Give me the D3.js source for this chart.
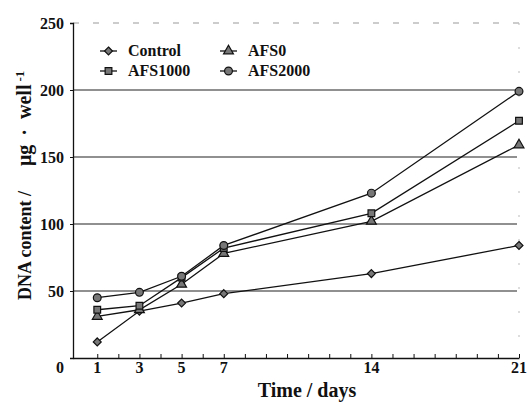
<!DOCTYPE html>
<html>
<head>
<meta charset="utf-8">
<script src="https://cdn.jsdelivr.net/npm/d3@7"></script>
<style>
  body { margin: 0; background: #fff; }
  svg text { font-family: "Times New Roman", "Liberation Serif", "DejaVu Serif", serif !important; font-weight: bold; fill: #111; }
</style>
</head>
<body>
<div id="graph"></div>
<script>
var days = [1, 3, 5, 7, 14, 21];
var control = [12, 35, 41, 48, 63, 84];
var afs0 = [31, 36, 55, 78, 102, 159];
var afs1000 = [36, 39, 60, 82, 108, 177];
var afs2000 = [45, 49, 61, 84, 123, 199];
var xTickLabels = [1, 3, 5, 7, 14, 21];
var yTicks = [50, 100, 150, 200, 250];

var serif = '"Times New Roman", "Liberation Serif", "DejaVu Serif", serif';

var series = [
    {name: 'Control', values: control, symbol: d3.symbolDiamond2, size: 40},
    {name: 'AFS0', values: afs0, symbol: d3.symbolTriangle, size: 42},
    {name: 'AFS1000', values: afs1000, symbol: d3.symbolSquare, size: 45},
    {name: 'AFS2000', values: afs2000, symbol: d3.symbolCircle, size: 48}
];

var width = 529,
    height = 403;

var svg = d3.select('#graph')
    .append('svg')
        .attr('width', width)
        .attr('height', height)
        .attr('font-family', serif);

var x = d3.scaleLinear()
    .domain([-0.15, 21])
    .range([73, 519]);

var y = d3.scaleLinear()
    .domain([0, 250])
    .range([358, 23]);

// frame: faint dotted top and right
svg.append('line')
    .attr('x1', x(-0.15)).attr('x2', x(21))
    .attr('y1', y(250)).attr('y2', y(250))
    .attr('stroke', '#999').attr('stroke-width', 1)
    .attr('stroke-dasharray', '6,14');
svg.append('line')
    .attr('x1', x(21)).attr('x2', x(21))
    .attr('y1', y(250)).attr('y2', y(0))
    .attr('stroke', '#bbb').attr('stroke-width', 1)
    .attr('stroke-dasharray', '2,22');

// gridlines
svg.append('g')
    .selectAll('line')
    .data(yTicks.filter(function(d) { return d < 250; }))
    .enter()
    .append('line')
        .attr('x1', x(-0.15))
        .attr('x2', x(21) - 2)
        .attr('y1', function(d) { return y(d); })
        .attr('y2', function(d) { return y(d); })
        .attr('stroke', '#222')
        .attr('stroke-width', 1.1);

// y axis
var yAxis = svg.append('g')
    .attr('transform', 'translate(' + x(-0.15) + ',0)')
    .call(d3.axisLeft(y).tickValues(yTicks).tickSize(3).tickPadding(6));
yAxis.attr('font-family', serif).attr('font-size', 16);
yAxis.select('.domain').attr('stroke', '#111').attr('stroke-width', 1.3);
yAxis.selectAll('.tick line').attr('stroke', '#111');
yAxis.selectAll('.tick text').attr('fill', '#111');

// x axis: inward ticks every day
var xAxis = svg.append('g')
    .attr('transform', 'translate(0,' + y(0) + ')')
    .call(d3.axisBottom(x).tickValues(d3.range(1, 22)).tickSizeInner(-4).tickSizeOuter(0).tickFormat(''));
xAxis.select('.domain').attr('stroke', '#111').attr('stroke-width', 1.3);
xAxis.selectAll('.tick line').attr('stroke', '#111');

svg.append('g')
    .selectAll('text')
    .data(xTickLabels)
    .enter()
    .append('text')
        .attr('x', function(d) { return x(d); })
        .attr('y', 373)
        .attr('text-anchor', 'middle')
        .attr('font-size', 16)
        .text(function(d) { return d; });

// the lone zero at the corner
svg.append('text')
    .attr('x', x(-0.15) - 9)
    .attr('y', 373)
    .attr('text-anchor', 'end')
    .attr('font-size', 16)
    .text('0');

// axis titles
svg.append('text')
    .attr('x', 307)
    .attr('y', 397)
    .attr('text-anchor', 'middle')
    .attr('font-size', 20)
    .text('Time / days');

svg.append('text')
    .attr('transform', 'translate(31,300) rotate(-90)')
    .attr('text-anchor', 'start')
    .attr('font-size', 18)
    .text('DNA content /');

var yUnit = svg.append('text')
    .attr('transform', 'translate(31,166) rotate(-90)')
    .attr('text-anchor', 'start')
    .attr('font-size', 20);
yUnit.append('tspan').text('\u03bcg');
yUnit.append('tspan').attr('dx', 9).text('\u00b7');
yUnit.append('tspan').attr('dx', 10).text('well');
yUnit.append('tspan').attr('dx', 3).attr('dy', -7).attr('font-size', 13).text('-1');

// lines and markers
var line = d3.line()
    .x(function(d, i) { return x(days[i]); })
    .y(function(d) { return y(d); });

series.forEach(function(s) {
    svg.append('path')
        .datum(s.values)
        .attr('d', line)
        .attr('fill', 'none')
        .attr('stroke', '#111')
        .attr('stroke-width', 1.3);

    svg.append('g')
        .selectAll('path')
        .data(s.values)
        .enter()
        .append('path')
            .attr('transform', function(d, i) { return 'translate(' + x(days[i]) + ',' + y(d) + ')'; })
            .attr('d', d3.symbol().type(s.symbol).size(s.size))
            .attr('fill', '#777')
            .attr('stroke', '#111')
            .attr('stroke-width', 1.2);
});

// legend
var legendPos = [
    {lx: 100, ty: 51},
    {lx: 220, ty: 51},
    {lx: 100, ty: 71},
    {lx: 220, ty: 71}
];
var legend = svg.append('g');
series.forEach(function(s, i) {
    var p = legendPos[i];
    legend.append('line')
        .attr('x1', p.lx).attr('x2', p.lx + 17)
        .attr('y1', p.ty).attr('y2', p.ty)
        .attr('stroke', '#111').attr('stroke-width', 1.3);
    legend.append('path')
        .attr('transform', 'translate(' + (p.lx + 8.5) + ',' + p.ty + ')')
        .attr('d', d3.symbol().type(s.symbol).size(s.size))
        .attr('fill', '#777')
        .attr('stroke', '#111')
        .attr('stroke-width', 1.2);
    legend.append('text')
        .attr('x', p.lx + 28)
        .attr('y', p.ty + 5)
        .attr('font-size', 16)
        .text(s.name);
});
</script>
</body>
</html>
